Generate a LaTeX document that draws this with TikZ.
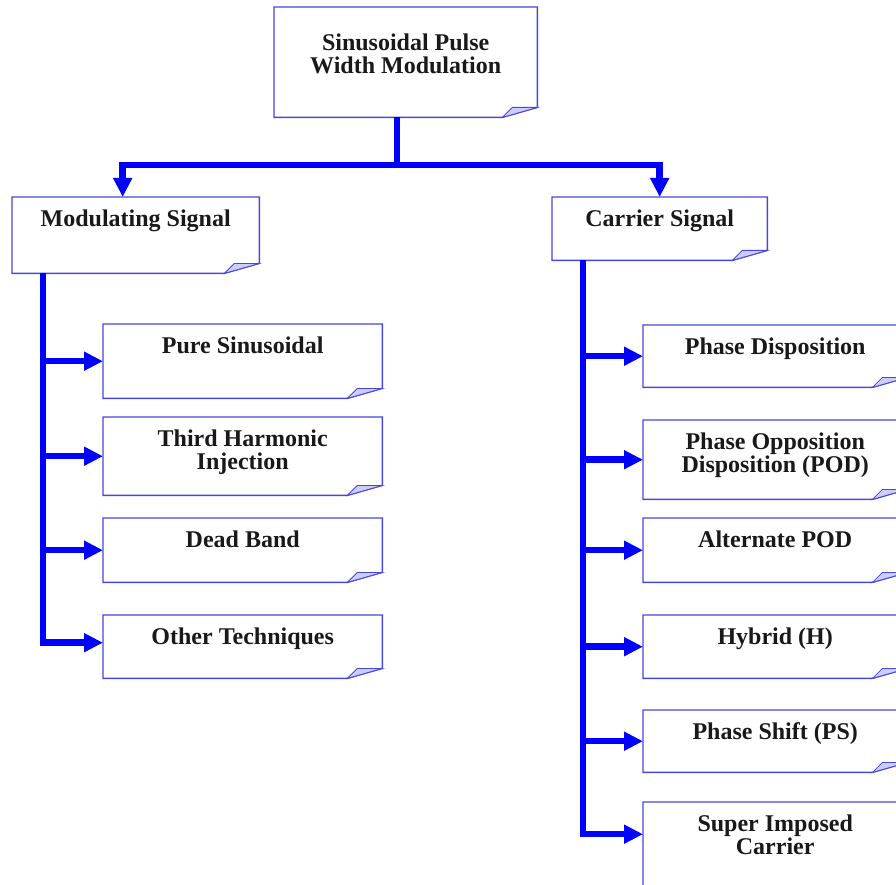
\documentclass[tikz,border=0pt]{standalone}
\usepackage{fontspec}
\setmainfont{Liberation Serif}
\usetikzlibrary{positioning, arrows.meta}
\tikzset{>={Triangle[length=19pt,width=18pt]}}
\definecolor{boxblue}{RGB}{70,70,225}
\definecolor{flowblue}{RGB}{0,0,255}
\definecolor{foldblue}{RGB}{205,205,250}

\begin{document}
\begin{tikzpicture}[x=1pt, y=-1pt,
box/.style 2 args={rectangle, inner sep=0pt, anchor=north west, minimum width=#1, minimum height=#2},
txt/.style={inner sep=0pt, anchor=north, align=center, text=black!90, font=\bfseries\fontsize{24}{23.5}\selectfont, execute at begin node=\strut},
outline/.style={draw=boxblue, line width=1.4pt, line join=miter},
flow/.style={draw=flowblue, line width=6.5pt}]
\useasboundingbox (0,0) rectangle (896,885);

\node[box={263pt}{110pt}] (spwm) at (274,7) {};
\node[box={247pt}{76pt}] (mod) at (12,197) {};
\node[box={215pt}{63pt}] (car) at (552,197) {};
\node[box={279pt}{74pt}] (pure) at (103,324) {};
\node[box={279pt}{78pt}] (third) at (103,417) {};
\node[box={279pt}{64pt}] (dead) at (103,518) {};
\node[box={279pt}{63pt}] (other) at (103,615) {};
\node[box={264pt}{62pt}] (pd) at (643,325) {};
\node[box={264pt}{79pt}] (pod) at (643,420) {};
\node[box={264pt}{64pt}] (apod) at (643,518) {};
\node[box={264pt}{63pt}] (hyb) at (643,615) {};
\node[box={264pt}{62pt}] (ps) at (643,710) {};
\node[box={264pt}{96pt}] (sic) at (643,802) {};

\foreach \n in {spwm,mod,car,pure,third,dead,other,pd,pod,apod,hyb,ps,sic} {
\draw[outline] (\n.north west) -- (\n.north east) -- ([yshift=10pt]\n.south east)
  -- ([xshift=-35pt]\n.south east) -- (\n.south west) -- cycle;
\filldraw[outline, fill=foldblue, line width=0.8pt] ([xshift=-35pt]\n.south east)
  -- ([xshift=-25pt,yshift=10pt]\n.south east) -- ([yshift=10pt]\n.south east) -- cycle;
}

\node[txt, below=26.5pt of spwm.north] (spwm-t) {Sinusoidal Pulse\\Width Modulation};
\foreach \n/\t in {mod/Modulating Signal, car/Carrier Signal, pure/Pure Sinusoidal,
  third/{Third Harmonic\\Injection}, dead/Dead Band, other/Other Techniques,
  pd/Phase Disposition, pod/{Phase Opposition\\Disposition (POD)}, apod/Alternate POD,
  hyb/Hybrid (H), ps/Phase Shift (PS), sic/{Super Imposed\\Carrier}}
  \node[txt, below=12.5pt of \n.north] (\n-t) {\t};

\coordinate (split) at (397,165);
\coordinate (ltrunk) at (43,273);
\coordinate (rtrunk) at (583,260);

\draw[flow] (spwm.south -| split) -- (split);
\draw[flow,->] (split) -| ([xshift=-13pt]mod.north);
\draw[flow,->] (split) -| (car.north);

\draw[flow,->] (mod.south -| ltrunk) |- ([yshift=4pt]other.west);
\foreach \n in {pure,third,dead}
  \draw[flow,->] (ltrunk |- \n.west) -- (\n.west);

\draw[flow,->] (car.south -| rtrunk) |- ([yshift=16pt]sic.west);
\foreach \n in {pd,pod,apod,hyb,ps}
  \draw[flow,->] (rtrunk |- \n.west) -- (\n.west);
\end{tikzpicture}
\end{document}
